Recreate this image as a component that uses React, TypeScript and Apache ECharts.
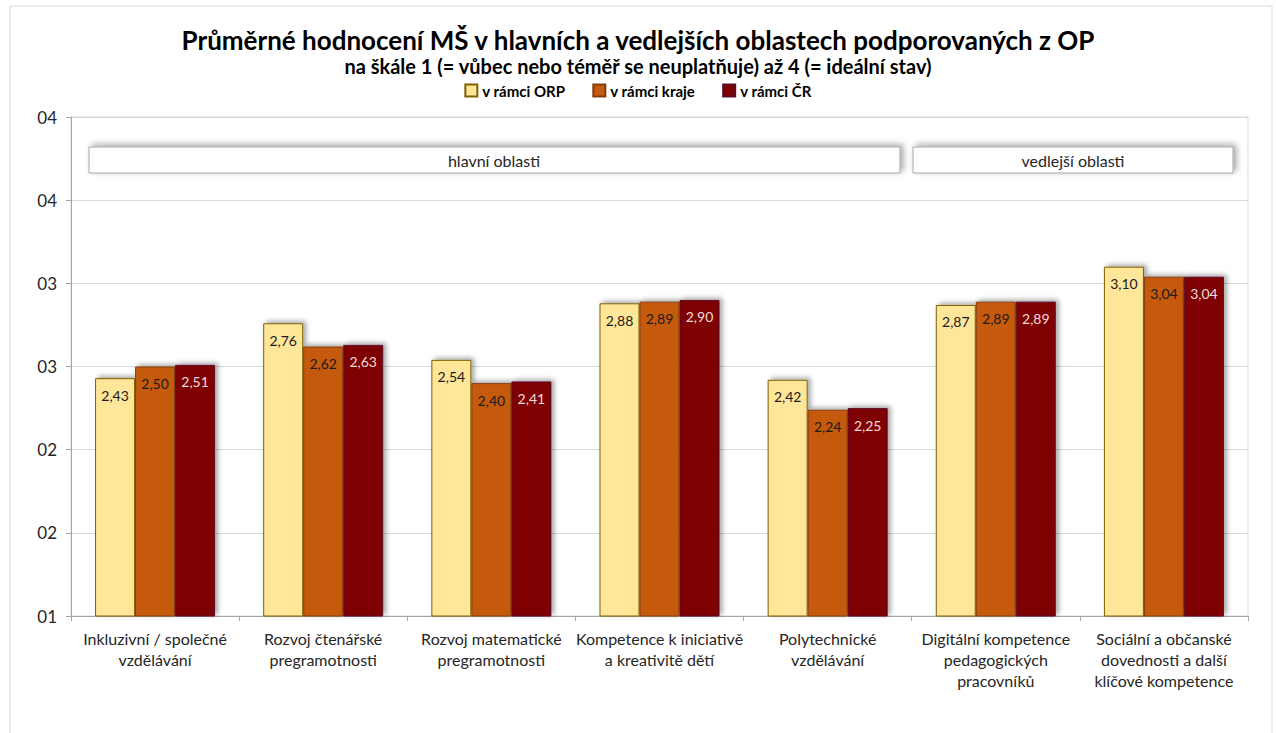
import React, { useEffect, useRef } from "react";
import * as echarts from "echarts";

const categories = [
  "Inkluzivní / společné\nvzdělávání",
  "Rozvoj čtenářské\npregramotnosti",
  "Rozvoj matematické\npregramotnosti",
  "Kompetence k iniciativě\na kreativitě dětí",
  "Polytechnické\nvzdělávání",
  "Digitální kompetence\npedagogických\npracovníků",
  "Sociální a občanské\ndovednosti a další\nklíčové kompetence",
];
const seriesNames = ["v rámci ORP", "v rámci kraje", "v rámci ČR"];
const orpValues = [2.43, 2.76, 2.54, 2.88, 2.42, 2.87, 3.1];
const krajeValues = [2.5, 2.62, 2.4, 2.89, 2.24, 2.89, 3.04];
const crValues = [2.51, 2.63, 2.41, 2.9, 2.25, 2.89, 3.04];
const groupLabels = ["hlavní oblasti", "vedlejší oblasti"];

const FONT = "Lato, 'Open Sans', sans-serif";

export default function App() {
  const ref = useRef<HTMLDivElement>(null);
  useEffect(() => {
    document.body.style.margin = "0";
    const chart = echarts.init(ref.current!, null, { renderer: "svg" });
    const fmt = (p: any) => Number(p.value).toFixed(2).replace(".", ",");
    const barShadow = {
      shadowBlur: 5,
      shadowColor: "rgba(0,0,0,0.35)",
      shadowOffsetX: 3,
      shadowOffsetY: -2,
    };
    const mk = (name: string, data: number[], color: string, border: string, labelColor: string) => ({
      name,
      type: "bar",
      data,
      barWidth: 40,
      barGap: "0%",
      itemStyle: { color, borderColor: border, borderWidth: 1, ...barShadow },
      label: {
        show: true,
        position: "insideTop",
        distance: 10,
        formatter: fmt,
        fontSize: 14,
        color: labelColor,
        fontFamily: FONT,
      },
    });
    const boxStyle = {
      fill: "#ffffff",
      stroke: "#a6a6a6",
      lineWidth: 1,
      shadowBlur: 6,
      shadowColor: "rgba(0,0,0,0.35)",
      shadowOffsetX: 3,
      shadowOffsetY: -2,
    };
    chart.setOption({
      animation: false,
      textStyle: { fontFamily: FONT },
      title: [
        {
          text: "Průměrné hodnocení MŠ v hlavních a vedlejších oblastech podporovaných z OP",
          left: "center",
          top: 27,
          padding: 0,
          textStyle: { fontSize: 26, fontWeight: "bold", color: "#000", lineHeight: 26, fontFamily: FONT },
        },
        {
          text: "na škále 1 (= vůbec nebo téměř se neuplatňuje) až 4 (= ideální stav)",
          left: "center",
          top: 56,
          padding: 0,
          textStyle: { fontSize: 20, fontWeight: "bold", color: "#000", lineHeight: 20, fontFamily: FONT },
        },
      ],
      legend: {
        data: seriesNames,
        top: 83,
        left: "center",
        padding: 0,
        itemWidth: 12,
        itemHeight: 12,
        itemGap: 27,
        icon: "rect",
        textStyle: { fontSize: 15, fontWeight: "bold", color: "#000", fontFamily: FONT },
      },
      grid: {
        left: 71,
        right: 28,
        top: 117,
        bottom: 117,
        show: true,
        borderColor: "#d9d9d9",
        borderWidth: 1,
      },
      xAxis: {
        type: "category",
        data: categories,
        axisLine: { lineStyle: { color: "#a6a6a6" } },
        axisTick: { show: true, length: 5, lineStyle: { color: "#a6a6a6" } },
        axisLabel: {
          interval: 0,
          margin: 12,
          fontSize: 16,
          lineHeight: 21,
          color: "#262626",
          fontFamily: FONT,
        },
      },
      yAxis: {
        type: "value",
        min: 1,
        max: 4,
        interval: 0.5,
        axisLine: { show: true, lineStyle: { color: "#a6a6a6" } },
        axisTick: { show: true, length: 5, lineStyle: { color: "#a6a6a6" } },
        splitLine: { lineStyle: { color: "#d9d9d9" } },
        axisLabel: {
          margin: 14,
          fontSize: 17,
          color: "#262626",
          fontFamily: FONT,
          formatter: (v: number) => "0" + Math.round(v),
        },
      },
      series: [
        mk(seriesNames[0], orpValues, "#ffe699", "#7f6000", "#1a1a1a"),
        mk(seriesNames[1], krajeValues, "#c55a11", "#843c0c", "#1a1a1a"),
        mk(seriesNames[2], crValues, "#7f0000", "#5c0a2a", "#f4dcdc"),
      ],
      graphic: [
        {
          type: "rect",
          silent: true,
          shape: { x: 10, y: 6, width: 1262, height: 760 },
          style: { fill: "none", stroke: "#d9d9d9", lineWidth: 1 },
        },
        {
          type: "rect",
          shape: { x: 89, y: 147, width: 811, height: 26 },
          style: boxStyle,
        },
        {
          type: "text",
          x: 494,
          y: 160,
          style: {
            text: groupLabels[0],
            fontSize: 16,
            fontFamily: FONT,
            fill: "#262626",
            align: "center",
            verticalAlign: "middle",
          },
        },
        {
          type: "rect",
          shape: { x: 913, y: 147, width: 320, height: 26 },
          style: boxStyle,
        },
        {
          type: "text",
          x: 1073,
          y: 160,
          style: {
            text: groupLabels[1],
            fontSize: 16,
            fontFamily: FONT,
            fill: "#262626",
            align: "center",
            verticalAlign: "middle",
          },
        },
      ],
    });
    return () => chart.dispose();
  }, []);
  return <div ref={ref} style={{ width: 1276, height: 733 }} />;
}
